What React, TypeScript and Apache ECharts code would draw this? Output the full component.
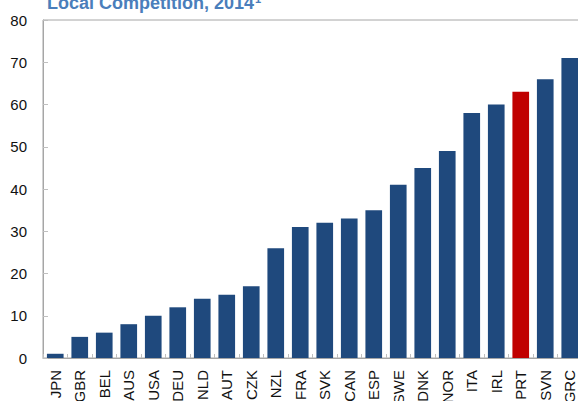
import React, { useEffect, useRef } from "react";
import * as echarts from "echarts";

const categories = ["JPN","GBR","BEL","AUS","USA","DEU","NLD","AUT","CZK","NZL","FRA","SVK","CAN","ESP","SWE","DNK","NOR","ITA","IRL","PRT","SVN","GRC"];
const values = [1,5,6,8,10,12,14,15,17,26,31,32,33,35,41,45,49,58,60,63,66,71];
const highlight = "PRT";
const yTicks = [0,10,20,30,40,50,60,70,80];
const titleText = "Local Competition, 2014";
const titleNote = "1";

export default function App() {
  const ref = useRef<HTMLDivElement>(null);
  useEffect(() => {
    const chart = echarts.init(ref.current!, null, { renderer: "svg" });
    chart.setOption({
      animation: false,
      backgroundColor: "#ffffff",
      grid: { left: 43, top: 20, width: 539, height: 338, outerBoundsMode: "none", containLabel: false, show: true, borderColor: "#A6A6A6", borderWidth: 1, backgroundColor: "transparent" },
      graphic: [
        {
          type: "text",
          left: 47,
          top: -7,
          style: {
            text: `{t|${titleText}}{s|${titleNote}}`,
            rich: {
              t: { fontFamily: "Liberation Sans", fontWeight: "bold", fontSize: 18, fill: "#4A7EBB" },
              s: { fontFamily: "Liberation Sans", fontWeight: "bold", fontSize: 11, fill: "#4A7EBB", verticalAlign: "top", padding: [0, 0, 8, 1] },
            },
          },
        },
      ],
      xAxis: {
        type: "category",
        data: categories,
        axisLine: { lineStyle: { color: "#A6A6A6" } },
        axisTick: { show: true, inside: true, length: 4, lineStyle: { color: "#BFBFBF" } },
        axisLabel: { rotate: 90, interval: 0, margin: 12, fontSize: 15, fontFamily: "Liberation Sans", color: "#111" },
      },
      yAxis: {
        type: "value",
        min: yTicks[0],
        max: yTicks[yTicks.length - 1],
        interval: 10,
        splitLine: { show: false },
        axisLine: { show: true, lineStyle: { color: "#A6A6A6" } },
        axisTick: { show: true, inside: true, length: 5, lineStyle: { color: "#BFBFBF" } },
        axisLabel: { margin: 16, fontSize: 15, fontFamily: "Liberation Sans", color: "#111" },
      },
      series: [
        {
          type: "bar",
          barWidth: "68%",
          data: categories.map((c, i) => ({
            value: values[i],
            itemStyle: { color: c === highlight ? "#C00000" : "#1F497D" },
          })),
        },
      ],
    });
    return () => chart.dispose();
  }, []);
  return <div ref={ref} style={{ position: "fixed", left: 0, top: 0, width: 578, height: 401, overflow: "hidden" }} />;
}
